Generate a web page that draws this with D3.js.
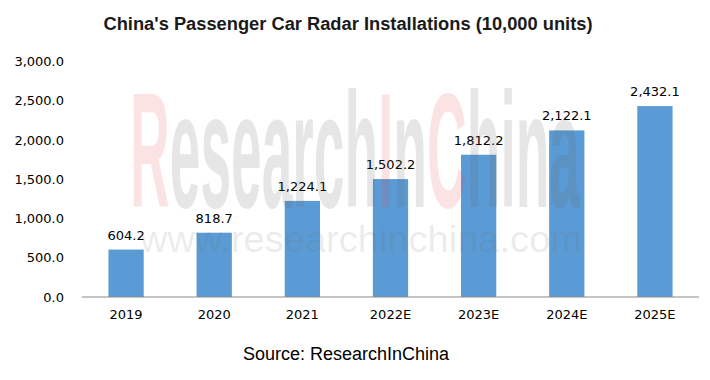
<!DOCTYPE html>
<html><head><meta charset="utf-8">
<script src="https://cdn.jsdelivr.net/npm/d3@7"></script>
<style>body{margin:0;background:#fff}svg{display:block}</style>
</head><body>
<script>
const categories = ["2019","2020","2021","2022E","2023E","2024E","2025E"];
const values = [604.2, 818.7, 1224.1, 1502.2, 1812.2, 2122.1, 2432.1];
const yTicks = [0, 500, 1000, 1500, 2000, 2500, 3000];
const title = "China's Passenger Car Radar Installations (10,000 units)";
const source = "Source: ResearchInChina";

const W = 710, H = 380;
const svg = d3.select("body").append("svg").attr("width", W).attr("height", H);

const x = d3.scaleBand().domain(categories).range([82, 699]).paddingInner(0.6).paddingOuter(0.3);
const y = d3.scaleLinear().domain([0, 3000]).range([297, 61.5]);
const fmt = d3.format(",.1f");

svg.append("text").attr("x", 348).attr("y", 30).attr("text-anchor", "middle")
  .attr("font-family", "Liberation Sans, Arial, sans-serif").attr("font-weight", "bold")
  .attr("font-size", 18.3).attr("fill", "#1a1a1a").text(title);

// y axis (labels only)
const yAxis = d3.axisLeft(y).tickValues(yTicks).tickFormat(fmt).tickSize(0).tickPadding(0);
const gy = svg.append("g").attr("transform", "translate(64,0)").call(yAxis);
gy.select(".domain").remove();
gy.selectAll("text").attr("font-family", "DejaVu Sans, Verdana, sans-serif")
  .attr("font-size", 13).attr("fill", "#000");

// bars
svg.append("g").selectAll("rect").data(values).join("rect")
  .attr("x", (d, i) => x(categories[i])).attr("width", x.bandwidth())
  .attr("y", d => y(d)).attr("height", d => y(0) - y(d)).attr("fill", "#5B9BD5");

// x axis
const xAxis = d3.axisBottom(x).tickSize(0).tickPadding(13);
const gx = svg.append("g").attr("transform", "translate(0,297)").call(xAxis);
gx.select(".domain").attr("stroke", "#898989").attr("stroke-width", 1.2).attr("d", "M82,0H699");
gx.selectAll("text").attr("font-family", "DejaVu Sans, Verdana, sans-serif")
  .attr("font-size", 13).attr("fill", "#000");

// value labels
svg.append("g").selectAll("text").data(values).join("text")
  .attr("x", (d, i) => x(categories[i]) + x.bandwidth() / 2)
  .attr("y", d => y(d) - 10).attr("text-anchor", "middle")
  .attr("font-family", "DejaVu Sans, Verdana, sans-serif").attr("font-size", 13)
  .attr("fill", "#000").text(d => fmt(d));

// watermark
const wm = svg.append("text").attr("x", 130).attr("y", 207)
  .attr("font-family", "Liberation Sans, Arial, sans-serif").attr("font-weight", "bold")
  .attr("font-size", 163)
  .attr("textLength", 450).attr("lengthAdjust", "spacingAndGlyphs");
[["R", "red"], ["esearch", "gray"], ["I", "red"], ["n", "gray"], ["C", "red"], ["hina", "gray"]]
  .forEach(([t, c]) => wm.append("tspan")
    .attr("fill", c === "red" ? "rgb(235,70,70)" : "rgb(100,100,100)")
    .attr("fill-opacity", c === "red" ? 0.15 : 0.16).text(t));
svg.append("text").attr("x", 140).attr("y", 252)
  .attr("font-family", "Liberation Sans, Arial, sans-serif").attr("font-size", 37)
  .attr("textLength", 442).attr("lengthAdjust", "spacingAndGlyphs")
  .attr("fill", "rgb(100,100,100)").attr("fill-opacity", 0.13).text("www.researchinchina.com");

svg.append("text").attr("x", 346).attr("y", 360).attr("text-anchor", "middle")
  .attr("font-family", "Liberation Sans, Arial, sans-serif").attr("font-size", 18)
  .attr("fill", "#000").text(source);
</script>
</body></html>
